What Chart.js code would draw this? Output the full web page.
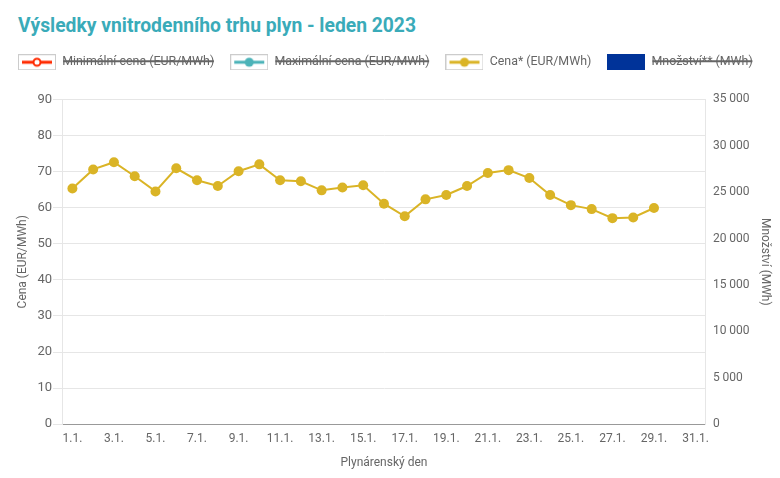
<!DOCTYPE html>
<html>
<head>
<meta charset="utf-8">
<script src="https://cdn.jsdelivr.net/npm/chart.js@4.4.1/dist/chart.umd.min.js"></script>
<style>
  html, body { margin: 0; padding: 0; background: #fff; }
  #wrap { position: relative; width: 780px; height: 478px; }
  #title { position: absolute; left: 18px; top: 14px; font: bold 19.3px Roboto, sans-serif; color: #3aabb9; white-space: nowrap; }
  canvas { position: absolute; left: 0; top: 0; }
</style>
</head>
<body>
<div id="wrap">
  <div id="title">Výsledky vnitrodenního trhu plyn - leden 2023</div>
  <canvas id="c" width="780" height="478"></canvas>
</div>
<script>
// ---- data ----
const days = ['1.1.','2.1.','3.1.','4.1.','5.1.','6.1.','7.1.','8.1.','9.1.','10.1.','11.1.','12.1.','13.1.','14.1.','15.1.','16.1.','17.1.','18.1.','19.1.','20.1.','21.1.','22.1.','23.1.','24.1.','25.1.','26.1.','27.1.','28.1.','29.1.','30.1.','31.1.'];
const cena = [65.3, 70.6, 72.6, 68.7, 64.5, 70.9, 67.6, 66.0, 70.1, 72.0, 67.6, 67.3, 64.8, 65.6, 66.2, 61.1, 57.6, 62.3, 63.5, 66.0, 69.6, 70.4, 68.2, 63.5, 60.7, 59.6, 57.1, 57.3, 59.9];
const minCena = [];
const maxCena = [];
const mnozstvi = [];
const seriesNames = ['Minimální cena (EUR/MWh)', 'Maximální cena (EUR/MWh)', 'Cena* (EUR/MWh)', 'Množství** (MWh)'];
const leftTicks = { min: 0, max: 90, step: 10 };
const rightTicks = { min: 0, max: 35000, step: 5000 };

// ---- legend symbols ----
function lineSymbol(color, hollow) {
  const cv = document.createElement('canvas');
  cv.width = 38; cv.height = 16;
  const g = cv.getContext('2d');
  g.fillStyle = '#fff'; g.fillRect(0, 0, 38, 16);
  g.strokeStyle = '#cccccc'; g.lineWidth = 1;
  g.strokeRect(0.5, 0.5, 37, 15);
  g.strokeStyle = color; g.lineWidth = 3;
  g.beginPath(); g.moveTo(4, 8); g.lineTo(34, 8); g.stroke();
  g.beginPath(); g.arc(19, 8, hollow ? 3.5 : 4.5, 0, Math.PI * 2);
  if (hollow) { g.fillStyle = '#fff'; g.fill(); g.lineWidth = 2; g.stroke(); }
  else { g.fillStyle = color; g.fill(); }
  return cv;
}
function barSymbol(color) {
  const cv = document.createElement('canvas');
  cv.width = 38; cv.height = 16;
  const g = cv.getContext('2d');
  g.fillStyle = color; g.fillRect(0, 0, 38, 16);
  return cv;
}

const fmt = v => String(v).replace(/\B(?=(\d{3})+(?!\d))/g, ' ');
const FONT = 'Roboto, sans-serif';
const GREY = '#666666';

const legendSpacer = {
  id: 'legendSpacer',
  beforeInit(chart) {
    const orig = chart.legend.fit;
    chart.legend.fit = function () { orig.call(this); this.height += 21; };
  }
};

new Chart(document.getElementById('c'), {
  type: 'bar',
  data: {
    labels: days,
    datasets: [
      { type: 'line', label: seriesNames[0], data: minCena, yAxisID: 'y', hidden: true,
        borderColor: '#ff2a00', backgroundColor: '#ffffff', borderWidth: 2, order: 1 },
      { type: 'line', label: seriesNames[1], data: maxCena, yAxisID: 'y', hidden: true,
        borderColor: '#4bb3b8', backgroundColor: '#4bb3b8', borderWidth: 2, order: 2 },
      { type: 'line', label: seriesNames[2], data: cena, yAxisID: 'y',
        borderColor: '#dab426', backgroundColor: '#dab426', borderWidth: 2,
        pointRadius: 5, pointHoverRadius: 5, pointBackgroundColor: '#dab426', pointBorderColor: '#dab426', pointBorderWidth: 0,
        tension: 0, order: 3 },
      { type: 'bar', label: seriesNames[3], data: mnozstvi, yAxisID: 'y1', hidden: true,
        backgroundColor: '#003399', order: 4 }
    ]
  },
  options: {
    responsive: false,
    animation: false,
    layout: { padding: { left: 2, right: 8, top: 40, bottom: 4 } },
    plugins: {
      title: { display: false },
      tooltip: { enabled: false },
      legend: {
        align: 'start',
        labels: {
          usePointStyle: true,
          pointStyleWidth: 38,
          boxHeight: 12,
          padding: 16,
          color: GREY,
          font: { family: FONT, size: 12.4 },
          generateLabels(chart) {
            const syms = [lineSymbol('#ff2a00', true), lineSymbol('#4bb3b8', false), lineSymbol('#dab426', false), barSymbol('#003399')];
            return chart.data.datasets.map((ds, i) => ({
              text: ds.label,
              fillStyle: ds.backgroundColor,
              strokeStyle: ds.borderColor,
              lineWidth: 0,
              hidden: !chart.isDatasetVisible(i),
              pointStyle: syms[i],
              fontColor: GREY,
              datasetIndex: i
            }));
          }
        }
      }
    },
    scales: {
      x: {
        type: 'category',
        offset: true,
        grid: { display: false, drawTicks: false },
        border: { display: true, color: '#999999' },
        ticks: {
          color: GREY, font: { family: FONT, size: 12 }, maxRotation: 0, autoSkip: false, padding: 8,
          callback(v, i) { return i % 2 === 0 ? days[i] : ''; }
        },
        title: { display: true, text: 'Plynárenský den', color: GREY, font: { family: FONT, size: 12 }, padding: { top: 1, bottom: 4 } }
      },
      y: {
        position: 'left',
        min: leftTicks.min, max: leftTicks.max,
        grid: { color: '#e6e6e6', tickLength: 9 },
        border: { display: true, color: '#e6e6e6' },
        ticks: { stepSize: leftTicks.step, color: GREY, font: { family: FONT, size: 13 }, padding: 1 },
        title: { display: true, text: 'Cena (EUR/MWh)', color: GREY, font: { family: FONT, size: 12 }, padding: { top: 14, bottom: 6 } }
      },
      y1: {
        position: 'right',
        display: true,
        min: rightTicks.min, max: rightTicks.max,
        grid: { display: false, drawTicks: false },
        border: { display: true, color: '#e6e6e6' },
        ticks: { stepSize: rightTicks.step, color: GREY, font: { family: FONT, size: 12 }, padding: 7, callback: v => fmt(v) },
        title: { display: true, text: 'Množství (MWh)', color: GREY, font: { family: FONT, size: 12 }, padding: { top: 0, bottom: 1 } }
      }
    }
  },
  plugins: [legendSpacer]
});
</script>
</body>
</html>
